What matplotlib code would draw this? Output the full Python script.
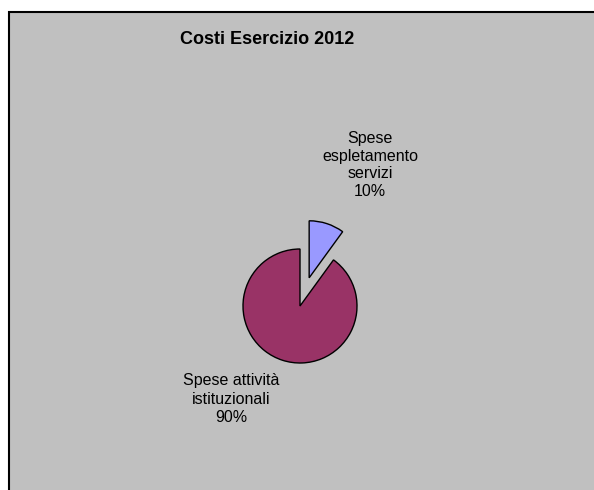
import matplotlib
matplotlib.use("Agg")
import matplotlib.pyplot as plt
from matplotlib.patches import Rectangle

title = "Costi Esercizio 2012"
categories = ["Spese\nespletamento\nservizi", "Spese attività\nistituzionali"]
values = [10, 90]
colors = ["#9999FF", "#993366"]
explode_frac = [0.52, 0.0]

W, H = 594, 490
R = 57
fig = plt.figure(figsize=(W / 100, H / 100), dpi=100)
fig.patch.set_facecolor("white")
ax = fig.add_axes([0, 0, 1, 1])

# grey chart area with border on left and top
ax.add_patch(Rectangle((9, -5), W + 10, H - 12 + 5, facecolor="#C0C0C0",
                       edgecolor="black", linewidth=1.5, zorder=0))

wedges, _ = ax.pie(values, colors=colors, explode=[e * R for e in explode_frac],
                   startangle=90, counterclock=False, center=(300, H - 306),
                   radius=R, wedgeprops=dict(edgecolor="black", linewidth=1.0),
                   frame=True)
ax.set_xlim(0, W)
ax.set_ylim(0, H)
ax.set_aspect("equal")
ax.axis("off")

font = "Liberation Sans"
total = sum(values)
label_pos = [(370, H - 165), (231, H - 399)]
for cat, v, (x, y) in zip(categories, values, label_pos):
    ax.text(x, y, f"{cat}\n{round(100 * v / total)}%", ha="center", va="center",
            fontsize=11.5, family=font, linespacing=1.25, color="black")

ax.text(267, H - 40, title, ha="center", va="center", fontsize=13,
        fontweight="bold", family=font, color="black")

fig.savefig("out.png", dpi=100, facecolor="white")
